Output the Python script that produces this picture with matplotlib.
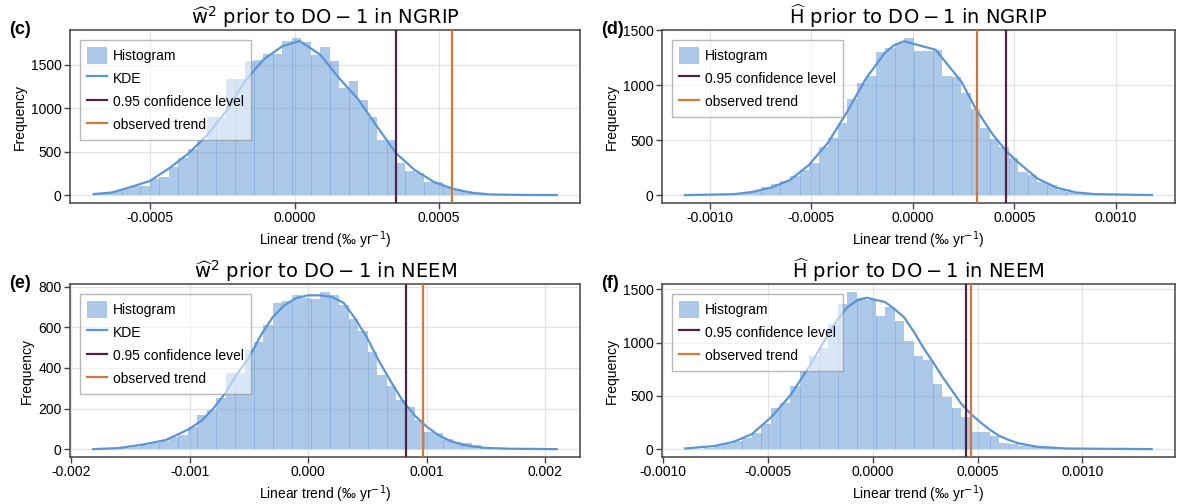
import matplotlib
matplotlib.use('Agg')
import matplotlib.pyplot as plt
from matplotlib.ticker import MultipleLocator, FormatStrFormatter
import numpy as np

plt.rcParams['font.family'] = ['Liberation Sans', 'DejaVu Sans']
plt.rcParams['mathtext.fontset'] = 'dejavusans'

# histogram ranges (lo, hi) and bin counts (49 bins each)
c_range = (-0.000697, 0.000908)
c_counts = [10, 20, 45, 65, 100, 110, 185, 205, 320, 430, 530, 640, 900, 900, 1340, 1340,
            1540, 1550, 1620, 1630, 1775, 1810, 1765, 1610, 1700, 1540, 1230, 1310, 1090,
            900, 640, 630, 370, 280, 250, 155, 150, 100, 75, 45, 25, 15, 8, 5, 3, 2, 1, 1, 1]
d_range = (-0.001119, 0.001175)
d_counts = [1, 2, 3, 4, 5, 8, 20, 35, 75, 100, 130, 175, 230, 290, 440, 520, 660, 870, 1020,
            1080, 1300, 1340, 1380, 1430, 1310, 1310, 1320, 1080, 1070, 930, 780, 610, 510,
            440, 340, 210, 180, 120, 90, 45, 25, 15, 10, 6, 4, 3, 2, 1, 1]
e_range = (-0.001813, 0.002096)
e_counts = [2, 3, 5, 8, 12, 22, 30, 38, 60, 70, 110, 170, 195, 250, 375, 375, 490, 530, 610,
            720, 730, 760, 745, 740, 775, 760, 710, 640, 580, 480, 365, 310, 240, 210, 145,
            85, 80, 50, 35, 28, 18, 12, 8, 5, 3, 2, 1, 1, 1]
f_range = (-0.000893, 0.00133)
f_counts = [2, 4, 10, 25, 45, 80, 100, 150, 240, 390, 430, 595, 735, 870, 950, 1170, 1360,
            1475, 1420, 1395, 1250, 1335, 1200, 1010, 870, 840, 610, 490, 390, 305, 165, 165,
            125, 60, 45, 30, 18, 10, 6, 4, 3, 2, 2, 1, 1, 1, 1, 1, 1]

# KDE curves
c_kde_x = [-0.000695, -0.000631, -0.000566, -0.0005, -0.000434, -0.000368, -0.000303, -0.000237,
           -0.000173, -0.000108, -0.000042, 0.000018, 0.000089, 0.000155, 0.000219, 0.000284,
           0.000351, 0.000416, 0.000482, 0.000547, 0.000613, 0.000677, 0.000797, 0.000908]
c_kde_y = [12, 31, 94, 164, 309, 477, 687, 965, 1305, 1559, 1715, 1773, 1617, 1344, 1109, 797,
           484, 289, 152, 74, 27, 8, 2, 1]
d_kde_x = [-0.001121, -0.000879, -0.000793, -0.000698, -0.000605, -0.00051, -0.000417, -0.000324,
           -0.000229, -0.000136, -0.00009, -0.000043, 0.000112, 0.000238, 0.000314, 0.000396,
           0.00046, 0.000519, 0.000612, 0.000707, 0.000802, 0.000897, 0.001176]
d_kde_y = [0, 9, 28, 68, 136, 276, 477, 755, 1065, 1297, 1365, 1399, 1322, 1034, 771, 545, 400,
           297, 152, 68, 25, 9, 1]
e_kde_x = [-0.001813, -0.0016, -0.0014, -0.0012, -0.001, -0.0009, -0.0008, -0.0007, -0.0006,
           -0.0005, -0.0004, -0.0003, -0.0002, -0.0001, 0.0, 0.0001, 0.0002, 0.0003, 0.0004,
           0.0005, 0.0006, 0.0007, 0.0008, 0.0009, 0.001, 0.0011, 0.0012, 0.0013, 0.0014,
           0.0015, 0.0017, 0.002096]
e_kde_y = [0, 5, 22, 45, 100, 140, 200, 275, 370, 450, 560, 650, 710, 745, 758, 758, 750, 720,
           640, 545, 430, 330, 235, 165, 110, 68, 40, 22, 12, 6, 2, 0]
f_kde_x = [-0.000893, -0.000756, -0.000666, -0.000576, -0.000484, -0.000392, -0.000302, -0.000212,
           -0.000166, -0.00012, -0.000075, -0.00003, 0.00006, 0.0001, 0.00015, 0.0002, 0.000242,
           0.00029, 0.000332, 0.000378, 0.000422, 0.000468, 0.000514, 0.00056, 0.000604,
           0.00065, 0.000696, 0.000785, 0.000927, 0.00133]
f_kde_y = [6, 29, 67, 140, 299, 505, 775, 1077, 1220, 1332, 1395, 1420, 1379, 1320, 1236, 1090,
           950, 810, 680, 550, 426, 330, 251, 180, 124, 85, 54, 22, 6, 0]

# 0.95 confidence level and observed trend
conf_levels = [0.00035, 0.00046, 0.000827, 0.000447]
observed = [0.000545, 0.000314, 0.000971, 0.000471]

titles = [r'$\widehat{\mathrm{w}}^2\ \mathrm{prior\ to\ DO}-1\ \mathrm{in\ NGRIP}$',
          r'$\widehat{\mathrm{H}}\ \mathrm{prior\ to\ DO}-1\ \mathrm{in\ NGRIP}$',
          r'$\widehat{\mathrm{w}}^2\ \mathrm{prior\ to\ DO}-1\ \mathrm{in\ NEEM}$',
          r'$\widehat{\mathrm{H}}\ \mathrm{prior\ to\ DO}-1\ \mathrm{in\ NEEM}$']
letters = ['(c)', '(d)', '(e)', '(f)']

hist_color = (0.36, 0.585, 0.83, 0.5)
stroke_color = '#8fb3dd'
kde_color = '#5b95d3'
conf_color = '#4e2348'
obs_color = '#d27a3d'

panels = [
    dict(rng=c_range, counts=c_counts, kx=c_kde_x, ky=c_kde_y, kde_leg=True,
         xstep=0.0005, xfmt='%.4f', ystep=500, pos=[70, 30, 580, 203], off=0),
    dict(rng=d_range, counts=d_counts, kx=d_kde_x, ky=d_kde_y, kde_leg=False,
         xstep=0.0005, xfmt='%.4f', ystep=500, pos=[662, 30, 1175, 203], off=1),
    dict(rng=e_range, counts=e_counts, kx=e_kde_x, ky=e_kde_y, kde_leg=True,
         xstep=0.001, xfmt='%.3f', ystep=200, pos=[70, 284, 580, 457], off=0),
    dict(rng=f_range, counts=f_counts, kx=f_kde_x, ky=f_kde_y, kde_leg=False,
         xstep=0.0005, xfmt='%.4f', ystep=500, pos=[662, 284, 1175, 457], off=1),
]

W, H = 1178, 504
fig = plt.figure(figsize=(W / 100, H / 100), dpi=100)

for i, p in enumerate(panels):
    x0, y0, x1, y1 = p['pos']
    ax = fig.add_axes([x0 / W, 1 - y1 / H, (x1 - x0) / W, (y1 - y0) / H])
    counts = np.array(p['counts'], dtype=float)
    edges = np.linspace(p['rng'][0], p['rng'][1], len(counts) + 1)
    width = edges[1] - edges[0]

    bars = ax.bar(edges[:-1], counts, width=width, align='edge', color=hist_color,
                  linewidth=0, zorder=2)
    # thin bar outlines
    inner = edges[1:-1]
    tops = np.minimum(counts[:-1], counts[1:])
    sel = slice(p['off'], None, 2)
    ax.vlines(inner[sel], 0, tops[sel], color=stroke_color, lw=0.7, zorder=2.1)

    kde, = ax.plot(p['kx'], p['ky'], color=kde_color, lw=1.6, zorder=3)
    conf = ax.axvline(conf_levels[i], color=conf_color, lw=1.6, zorder=4)
    obs = ax.axvline(observed[i], color=obs_color, lw=1.6, zorder=4)

    ymax = max(counts.max(), max(p['ky']))
    ax.set_ylim(-0.05 * ymax, 1.05 * ymax)
    span = edges[-1] - edges[0]
    ax.set_xlim(edges[0] - 0.05 * span, edges[-1] + 0.05 * span)

    ax.xaxis.set_major_locator(MultipleLocator(p['xstep']))
    ax.xaxis.set_major_formatter(FormatStrFormatter(p['xfmt']))
    ax.yaxis.set_major_locator(MultipleLocator(p['ystep']))
    ax.grid(True, color='#e3e3e3', lw=0.9, zorder=0)
    ax.set_axisbelow(True)
    for s in ax.spines.values():
        s.set_color('#444444')
        s.set_linewidth(1.1)
    ax.tick_params(direction='out', length=4, width=1, color='#444444',
                   labelsize=10, pad=2)

    ax.set_title(titles[i], fontsize=14, pad=4)
    ax.set_xlabel('Linear trend (‰ yr$^{-1}$)', fontsize=10, labelpad=3)
    ax.set_ylabel('Frequency', fontsize=10, labelpad=3)

    handles = [bars.patches[0], kde, conf, obs]
    names = ['Histogram', 'KDE', '0.95 confidence level', 'observed trend']
    if not p['kde_leg']:
        handles.pop(1)
        names.pop(1)
    leg = ax.legend(handles, names, loc='upper left', fontsize=10, frameon=True,
                    fancybox=False, framealpha=0.55, edgecolor='#808080',
                    borderaxespad=0.7, handlelength=1.45, handleheight=1.5,
                    handletextpad=0.45, labelspacing=0.45, borderpad=0.5)
    leg.get_frame().set_linewidth(1.0)
    leg.set_zorder(5)

    fig.text((x0 - 61) / W, 1 - y0 / H, letters[i], fontsize=13,
             fontweight='bold', ha='left', va='center')

fig.savefig('out.png', dpi=100)
